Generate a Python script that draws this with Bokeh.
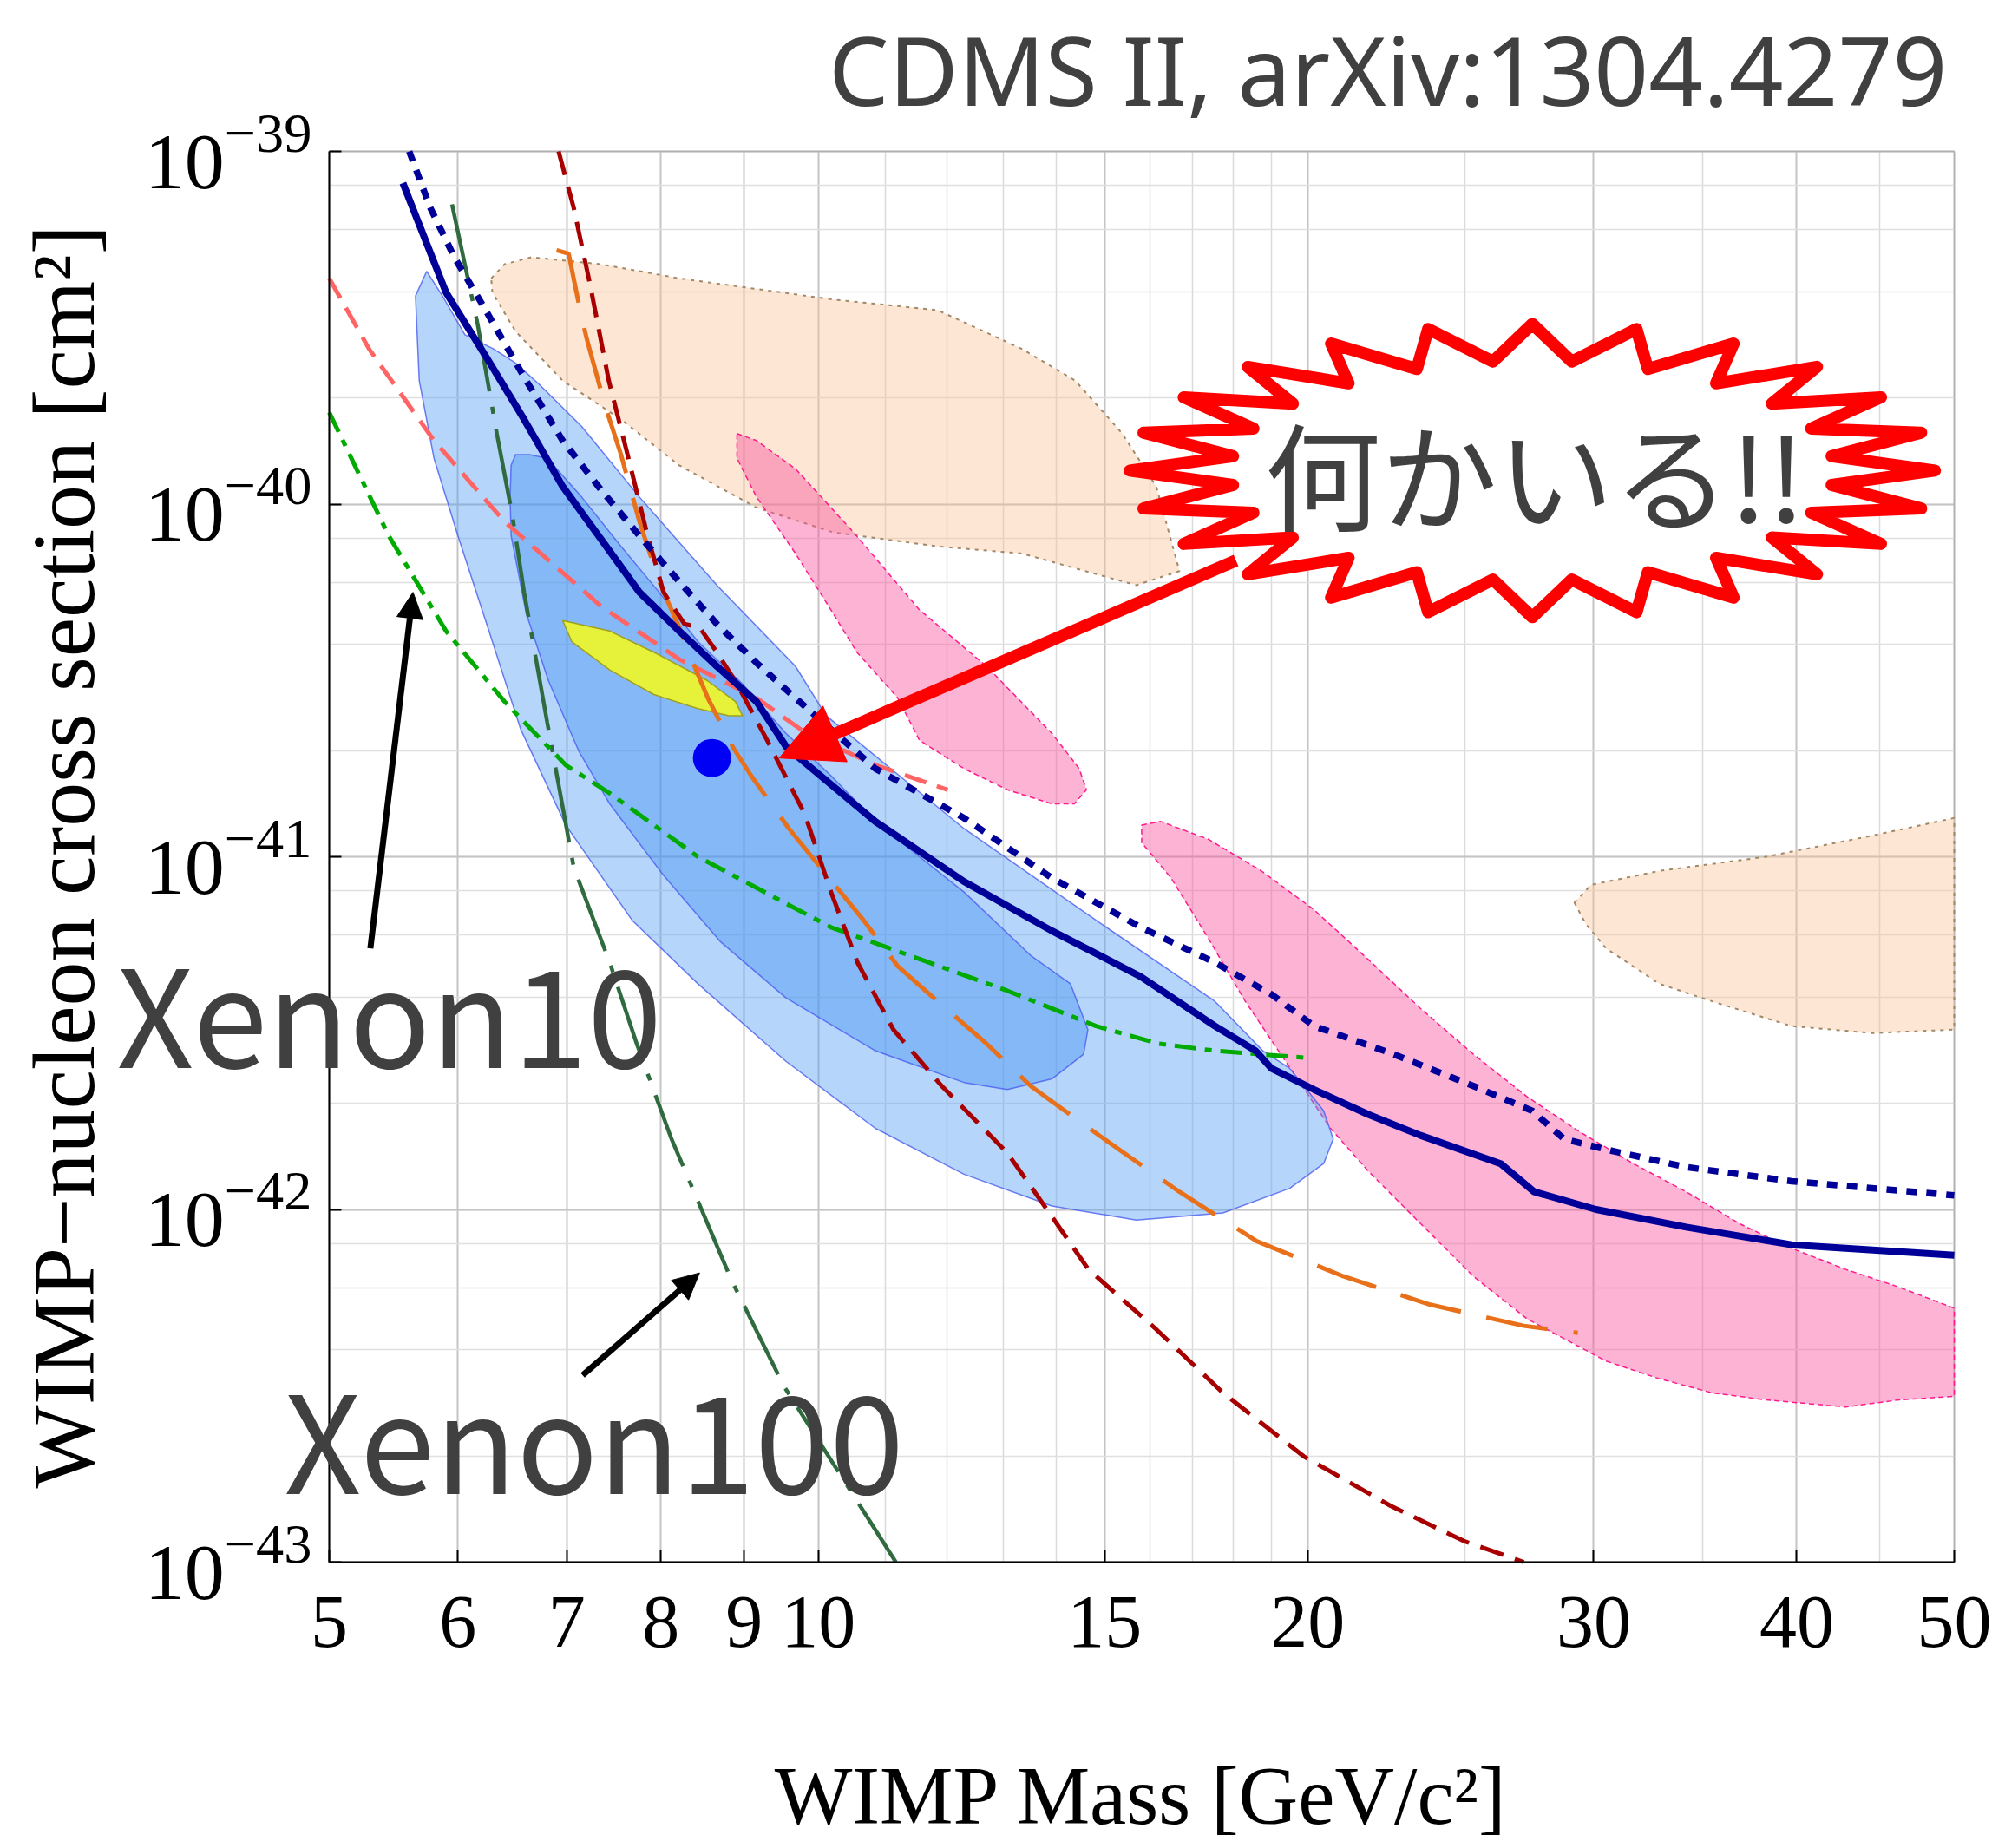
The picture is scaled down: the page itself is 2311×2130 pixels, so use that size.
import math
from bokeh.plotting import figure
from bokeh.models import (FixedTicker, PrintfTickFormatter, Label, Arrow, NormalHead, LogAxis, LogTicker,
                          Grid, Range1d, BoxAnnotation)
from bokeh.embed import file_html
from bokeh.resources import INLINE

# ---------------- data (mass in GeV/c^2, log10 of cross section in cm^2) ----------------
x_major_ticks = [5, 6, 7, 8, 9, 10, 15, 20, 30, 40, 50]
x_minor_ticks = [11, 12, 13, 14, 16, 17, 18, 19, 25, 35, 45]

# CDMS II Si 90% limit (solid)
si_limit_mass = [5.55, 5.90, 6.24, 6.59, 6.96, 7.35, 7.76, 8.21, 8.66, 9.16, 9.56, 10.84, 12.29, 13.92,
                 15.79, 17.54, 18.58, 19.00, 20.18, 21.78, 23.47, 26.29, 27.57, 30.10, 34.20, 39.7, 50]
si_limit_logsig = [-39.09, -39.40, -39.58, -39.76, -39.95, -40.10, -40.25, -40.36, -40.46, -40.56, -40.69,
                   -40.90, -41.07, -41.21, -41.34, -41.48, -41.55, -41.60, -41.66, -41.73, -41.79, -41.87,
                   -41.95, -42.00, -42.05, -42.10, -42.13]

# CDMS II Si expected sensitivity (dotted)
si_expected_mass = [5.60, 5.77, 5.97, 6.24, 6.59, 6.96, 7.35, 7.76, 8.21, 8.66, 9.16, 9.68, 10.84, 12.29,
                    13.92, 15.79, 17.54, 19.00, 20.18, 22.60, 25.30, 27.49, 28.76, 30.53, 34.20, 39.7, 50]
si_expected_logsig = [-39.00, -39.16, -39.30, -39.45, -39.64, -39.82, -39.96, -40.09, -40.22, -40.34, -40.45,
                      -40.55, -40.75, -40.89, -41.06, -41.20, -41.30, -41.39, -41.48, -41.56, -41.65, -41.72,
                      -41.80, -41.83, -41.88, -41.92, -41.96]

# light red dashed limit
salmon_mass = [5.00, 5.29, 5.80, 6.41, 7.35, 8.21, 9.16, 9.83, 10.84, 12.01]
salmon_logsig = [-39.36, -39.56, -39.82, -40.05, -40.29, -40.44, -40.55, -40.65, -40.74, -40.81]

# XENON10 (green dash-dot)
xenon10_mass = [5.00, 5.44, 5.90, 6.41, 6.99, 7.44, 8.43, 10.18, 11.54, 13.07, 14.82, 16.19, 17.54, 19.95]
xenon10_logsig = [-39.74, -40.09, -40.36, -40.56, -40.74, -40.82, -41.00, -41.20, -41.29, -41.38, -41.48,
                  -41.53, -41.55, -41.57]

# XENON100 (dark green dash-dot)
xenon100_mass = [5.95, 6.17, 6.34, 6.48, 6.59, 6.81, 7.07, 7.44, 7.73, 8.12, 8.42, 8.84, 9.52, 11.16]
xenon100_logsig = [-39.15, -39.49, -39.80, -40.03, -40.25, -40.62, -41.03, -41.30, -41.53, -41.80, -41.97,
                   -42.20, -42.50, -43.00]

# dark red dashed limit
darkred_mass = [6.92, 7.07, 7.23, 7.43, 7.64, 7.85, 8.03, 8.27, 8.45, 8.66, 8.91, 9.30, 9.81, 10.18, 10.57,
                11.12, 11.91, 13.07, 13.92, 14.66, 16.14, 17.74, 19.89, 22.49, 24.95, 27.17]
darkred_logsig = [-39.00, -39.16, -39.37, -39.65, -39.87, -40.09, -40.25, -40.34, -40.35, -40.42, -40.51,
                  -40.67, -40.88, -41.10, -41.30, -41.49, -41.65, -41.84, -42.02, -42.17, -42.34, -42.52,
                  -42.70, -42.84, -42.94, -43.00]

# orange long-dashed limit
orange_mass = [6.90, 7.02, 7.04, 7.12, 7.20, 7.39, 7.56, 7.76, 7.98, 8.21, 8.39, 8.55, 8.86, 9.09, 9.59,
               10.11, 10.66, 11.19, 11.84, 12.69, 13.51, 14.47, 15.53, 16.68, 18.61, 21.05, 23.80, 27.17, 29.33]
orange_logsig = [-39.28, -39.29, -39.32, -39.43, -39.53, -39.72, -39.86, -40.05, -40.22, -40.35, -40.46,
                 -40.55, -40.69, -40.77, -40.92, -41.05, -41.18, -41.31, -41.41, -41.53, -41.65, -41.75,
                 -41.85, -41.95, -42.09, -42.19, -42.27, -42.33, -42.35]

# CDMS II Si 90% C.L. region (light blue)
si90_mass = [5.74, 5.87, 6.06, 6.31, 6.51, 6.73, 7.15, 7.76, 8.66, 9.68, 10.11, 12.29, 14.82, 17.54, 18.77,
             19.50, 20.46, 20.74, 20.46, 19.50, 17.74, 15.69, 13.92, 12.29, 10.84, 9.55, 8.43, 7.68, 6.99,
             6.56, 6.27, 6.00, 5.80, 5.68, 5.65]
si90_logsig = [-39.34, -39.41, -39.52, -39.56, -39.60, -39.66, -39.78, -39.98, -40.23, -40.46, -40.60,
               -40.92, -41.18, -41.41, -41.55, -41.60, -41.72, -41.80, -41.87, -41.94, -42.01, -42.03,
               -41.99, -41.90, -41.77, -41.58, -41.36, -41.18, -40.91, -40.64, -40.36, -40.09, -39.87,
               -39.65, -39.41]

# CDMS II Si 68% C.L. region (darker blue)
si68_mass = [6.51, 6.64, 6.81, 7.15, 7.56, 7.98, 8.43, 8.98, 9.55, 10.18, 10.84, 11.54, 12.29, 13.51, 14.29,
             14.65, 14.56, 13.92, 13.07, 12.29, 10.84, 9.55, 8.70, 8.02, 7.44, 7.12, 6.82, 6.61, 6.47,
             6.46, 6.47]
si68_logsig = [-39.86, -39.86, -39.87, -39.98, -40.12, -40.25, -40.39, -40.51, -40.65, -40.77, -40.90,
               -41.00, -41.10, -41.28, -41.36, -41.49, -41.56, -41.63, -41.66, -41.64, -41.55, -41.40,
               -41.24, -41.05, -40.85, -40.70, -40.50, -40.31, -40.09, -39.98, -39.89]

# best-fit point
bestfit_mass = [8.6]
bestfit_logsig = [-40.72]

# yellow region
yellow_mass = [6.96, 7.44, 7.92, 8.54, 8.89, 8.98, 8.81, 8.43, 7.92, 7.44, 7.05]
yellow_logsig = [-40.33, -40.36, -40.42, -40.50, -40.56, -40.60, -40.60, -40.58, -40.54, -40.47, -40.39]

# peach regions
peach1_mass = [6.29, 6.41, 6.66, 7.35, 8.21, 9.16, 10.21, 11.84, 13.34, 14.39, 15.38, 16.14, 16.68, 15.69,
               13.34, 11.84, 10.21, 9.16, 8.21, 7.56, 6.96, 6.51, 6.30]
peach1_logsig = [-39.36, -39.32, -39.30, -39.32, -39.36, -39.39, -39.42, -39.45, -39.56, -39.65, -39.80,
                 -39.95, -40.19, -40.23, -40.14, -40.12, -40.08, -40.01, -39.89, -39.76, -39.65, -39.51, -39.40]
peach2_mass = [29.19, 29.88, 32.92, 38.29, 44.51, 50, 50, 44.51, 39.7, 35.48, 32.92, 30.53, 29.66]
peach2_logsig = [-41.13, -41.08, -41.04, -41.00, -40.94, -40.89, -41.49, -41.50, -41.48, -41.41, -41.36,
                 -41.26, -41.19]

# pink regions
pink1_mass = [8.91, 9.16, 9.68, 10.51, 11.54, 12.69, 13.92, 14.47, 14.62, 14.37, 13.92, 13.07, 12.29, 11.54,
              11.19, 10.56, 10.21, 9.68, 9.16, 8.91]
pink1_logsig = [-39.80, -39.82, -39.90, -40.08, -40.30, -40.46, -40.65, -40.75, -40.81, -40.85, -40.85,
                -40.81, -40.75, -40.67, -40.55, -40.42, -40.31, -40.14, -39.98, -39.87]
pink2_mass = [15.81, 16.24, 17.37, 18.73, 20.18, 21.78, 23.47, 25.30, 27.29, 29.41, 31.73, 34.20, 36.87,
              39.7, 42.87, 46.23, 50, 50, 46.23, 42.87, 38.29, 35.48, 32.92, 30.53, 29.41, 27.29, 25.30,
              23.47, 21.78, 20.66, 19.45, 18.31, 17.37, 16.48, 15.81]
pink2_logsig = [-40.91, -40.90, -40.95, -41.04, -41.15, -41.29, -41.43, -41.56, -41.68, -41.78, -41.87,
                -41.95, -42.04, -42.11, -42.17, -42.22, -42.28, -42.53, -42.54, -42.56, -42.54, -42.52,
                -42.48, -42.43, -42.39, -42.31, -42.19, -42.04, -41.89, -41.77, -41.59, -41.41, -41.23,
                -41.06, -40.96]

# annotation anchors (mass, log10 sigma)
red_arrow = (18.07, -40.16, 9.46, -40.72)
xe10_arrow = (5.30, -41.26, 5.63, -40.25)
xe100_arrow = (7.16, -42.47, 8.45, -42.18)
burst_centre = (27.5, -39.905)
burst_half = (0.2477, 0.4157)   # half widths in decades

# ---------------- layout geometry ----------------
W, H = 2308, 2128
PLOT_LEFT, PLOT_RIGHT, PLOT_TOP, PLOT_BOTTOM = 379, 2252, 174, 1800  # plot-area edges on the canvas
X_MIN, X_MAX, Y_MIN_EXP, Y_MAX_EXP = 5, 50, -43, -39
px_per_dec_x = (PLOT_RIGHT - PLOT_LEFT) / math.log10(X_MAX / X_MIN)
px_per_dec_y = (PLOT_BOTTOM - PLOT_TOP) / (Y_MAX_EXP - Y_MIN_EXP)
x_lo = 10 ** (math.log10(X_MIN) - PLOT_LEFT / px_per_dec_x)
x_hi = 10 ** (math.log10(X_MAX) + (W - PLOT_RIGHT) / px_per_dec_x)
y_hi = 10 ** (Y_MAX_EXP + PLOT_TOP / px_per_dec_y)
y_lo = 10 ** (Y_MIN_EXP - (H - PLOT_BOTTOM) / px_per_dec_y)
Y_MIN, Y_MAX = 10.0 ** Y_MIN_EXP, 10.0 ** Y_MAX_EXP


def sig(vals):
    return [10 ** v for v in vals]


def text_mid(baseline_px, size_px, half_box_em):
    """data y for a middle-aligned label whose baseline sits at baseline_px on the canvas"""
    mid_px = baseline_px - half_box_em * size_px
    return 10 ** (Y_MAX_EXP - (mid_px - PLOT_TOP) / px_per_dec_y)


p = figure(width=W, height=H, x_axis_type="log", y_axis_type="log",
           x_range=Range1d(x_lo, x_hi), y_range=Range1d(y_lo, y_hi),
           x_axis_location=None, y_axis_location=None,
           output_backend="svg", toolbar_location=None, title=None, min_border=0)
p.center = []          # drop automatic grids; custom bounded ones below
p.background_fill_color = "white"
p.border_fill_color = "white"
p.outline_line_color = None

xaxis = LogAxis(fixed_location=Y_MIN, bounds=(X_MIN, X_MAX),
                ticker=FixedTicker(ticks=x_major_ticks, minor_ticks=x_minor_ticks),
                formatter=PrintfTickFormatter(format="%d"))
yaxis = LogAxis(fixed_location=X_MIN, bounds=(Y_MIN, Y_MAX), ticker=LogTicker())
p.add_layout(xaxis, "below")
p.add_layout(yaxis, "left")
for ax in (xaxis, yaxis):
    ax.major_label_text_font = "Liberation Serif"
    ax.major_label_text_color = "black"
    ax.axis_label_text_font = "Liberation Serif"
    ax.axis_label_text_font_style = "normal"
    ax.axis_label_text_color = "black"
    ax.axis_line_color = "black"
    ax.axis_line_width = 2
    ax.major_tick_in = 14
    ax.major_tick_out = 0
    ax.major_tick_line_color = "black"
    ax.major_tick_line_width = 2
    ax.minor_tick_line_color = None
xaxis.major_label_text_font_size = "86px"
yaxis.major_label_text_font_size = "92px"
xaxis.axis_label = "WIMP Mass [GeV/c\u00b2]"
yaxis.axis_label = "WIMP\u2212nucleon cross section [cm\u00b2]"
xaxis.axis_label_text_font_size = "95px"
yaxis.axis_label_text_font_size = "102px"
xaxis.major_label_standoff = 36
yaxis.major_label_standoff = 16
xaxis.axis_label_standoff = 116
yaxis.axis_label_standoff = 34

has_cross = "cross_bounds" in Grid.properties()
xgrid = Grid(dimension=0, ticker=xaxis.ticker, bounds=(X_MIN, X_MAX),
             grid_line_color="#C4C4C4", grid_line_width=2,
             minor_grid_line_color="#DADADA", minor_grid_line_width=1.5)
ygrid = Grid(dimension=1, ticker=yaxis.ticker, bounds=(Y_MIN, Y_MAX),
             grid_line_color="#C4C4C4", grid_line_width=2,
             minor_grid_line_color="#E0E0E0", minor_grid_line_width=1.5)
if has_cross:
    xgrid.cross_bounds = (Y_MIN, Y_MAX)
    ygrid.cross_bounds = (X_MIN, X_MAX)
p.add_layout(xgrid)
p.add_layout(ygrid)
if not has_cross:
    # white masks outside the plot area so grid lines stop at its edges
    p.quad(left=[x_lo, X_MAX, X_MIN, X_MIN], right=[X_MIN, x_hi, X_MAX, X_MAX],
           bottom=[y_lo, y_lo, y_lo, Y_MAX], top=[y_hi, y_hi, Y_MIN, y_hi],
           fill_color="white", line_color=None)
p.add_layout(BoxAnnotation(left=X_MIN, right=X_MAX, bottom=Y_MIN, top=Y_MAX, fill_alpha=0,
                           line_color="#808080", line_width=1.5, level="underlay"))

# regions
p.patch(peach1_mass, sig(peach1_logsig), fill_color="#FAC090", fill_alpha=0.4,
        line_color="#A08868", line_dash="4 6", line_width=2)
p.patch(peach2_mass, sig(peach2_logsig), fill_color="#FAC090", fill_alpha=0.4,
        line_color="#A08868", line_dash="4 6", line_width=2)
p.patch(pink1_mass, sig(pink1_logsig), fill_color="#F8579F", fill_alpha=0.45,
        line_color="#FF1A8C", line_dash="6 4", line_width=1.5)
p.patch(pink2_mass, sig(pink2_logsig), fill_color="#F8579F", fill_alpha=0.45,
        line_color="#FF1A8C", line_dash="6 4", line_width=1.5)
p.patch(si90_mass, sig(si90_logsig), fill_color="#5AA5F5", fill_alpha=0.45,
        line_color="#4A5CF0", line_width=1.5, line_alpha=0.8)
p.patch(si68_mass, sig(si68_logsig), fill_color="#3C8CF0", fill_alpha=0.4,
        line_color="#4A5CF0", line_width=1.5, line_alpha=0.8)
p.patch(yellow_mass, sig(yellow_logsig), fill_color="#E6F23A", fill_alpha=1.0,
        line_color="#A0A020", line_width=1.5)

# limit curves
p.line(xenon100_mass, sig(xenon100_logsig), line_color="#2F6B3F", line_width=4.5, line_dash="88 18 8 18")
p.line(xenon10_mass, sig(xenon10_logsig), line_color="#00AA00", line_width=5, line_dash="25 10 8 10")
p.line(salmon_mass, sig(salmon_logsig), line_color="#FF6464", line_width=5, line_dash="26 13")
p.line(orange_mass, sig(orange_logsig), line_color="#E8701A", line_width=5, line_dash="72 30")
p.line(darkred_mass, sig(darkred_logsig), line_color="#A80000", line_width=5, line_dash="28 14")
p.line(si_expected_mass, sig(si_expected_logsig), line_color="#000099", line_width=7.5, line_dash="12 11")
p.line(si_limit_mass, sig(si_limit_logsig), line_color="#000099", line_width=8)

p.scatter(bestfit_mass, sig(bestfit_logsig), size=44, marker="circle", fill_color="#0000F5", line_color=None)

# annotations: arrows
p.add_layout(Arrow(end=NormalHead(size=70, fill_color="#FF0000", line_color="#FF0000"),
                   x_start=red_arrow[0], y_start=10 ** red_arrow[1],
                   x_end=red_arrow[2], y_end=10 ** red_arrow[3],
                   line_color="#FF0000", line_width=14))
p.add_layout(Arrow(end=NormalHead(size=30, fill_color="black", line_color="black"),
                   x_start=xe10_arrow[0], y_start=10 ** xe10_arrow[1],
                   x_end=xe10_arrow[2], y_end=10 ** xe10_arrow[3],
                   line_color="black", line_width=7))
p.add_layout(Arrow(end=NormalHead(size=30, fill_color="black", line_color="black"),
                   x_start=xe100_arrow[0], y_start=10 ** xe100_arrow[1],
                   x_end=xe100_arrow[2], y_end=10 ** xe100_arrow[3],
                   line_color="black", line_width=7))

# starburst callout (decorative shape, 24 spikes)
bx, by = [], []
for k in range(48):
    ang = math.pi * k / 24
    r = 1.0 if k % 2 == 0 else 0.75
    bx.append(burst_centre[0] * 10 ** (r * burst_half[0] * math.cos(ang)))
    by.append(10 ** (burst_centre[1] + r * burst_half[1] * math.sin(ang)))
burst = p.patch(bx, by, fill_color="white", line_color="#FF0000", line_width=14, line_join="round")
burst.level = "annotation"

# text (middle-aligned; half_box_em = (ascent - descent) / 2 of the font)
CJK_HALF, NOTO_HALF = 0.436, 0.388
p.add_layout(Label(x=27.6, y=10 ** -39.91, text="何かいる!!", text_font="Noto Sans CJK JP",
                   text_font_size="134px", text_color="#404040", text_align="center",
                   text_baseline="middle"))
p.add_layout(Label(x=49.5, y=text_mid(121, 110, NOTO_HALF), text="CDMS II, arXiv:1304.4279",
                   text_font="Noto Sans", text_font_size="110px", text_color="#404040",
                   text_align="right", text_baseline="middle"))
p.add_layout(Label(x=3.70, y=text_mid(1231, 155, CJK_HALF), text="Xenon10", text_font="Noto Sans CJK JP",
                   text_font_size="155px", text_color="#404040", text_align="left",
                   text_baseline="middle"))
p.add_layout(Label(x=4.69, y=text_mid(1722, 155, CJK_HALF), text="Xenon100", text_font="Noto Sans CJK JP",
                   text_font_size="155px", text_color="#404040", text_align="left",
                   text_baseline="middle"))

open("out.html", "w").write(file_html(p, INLINE))
